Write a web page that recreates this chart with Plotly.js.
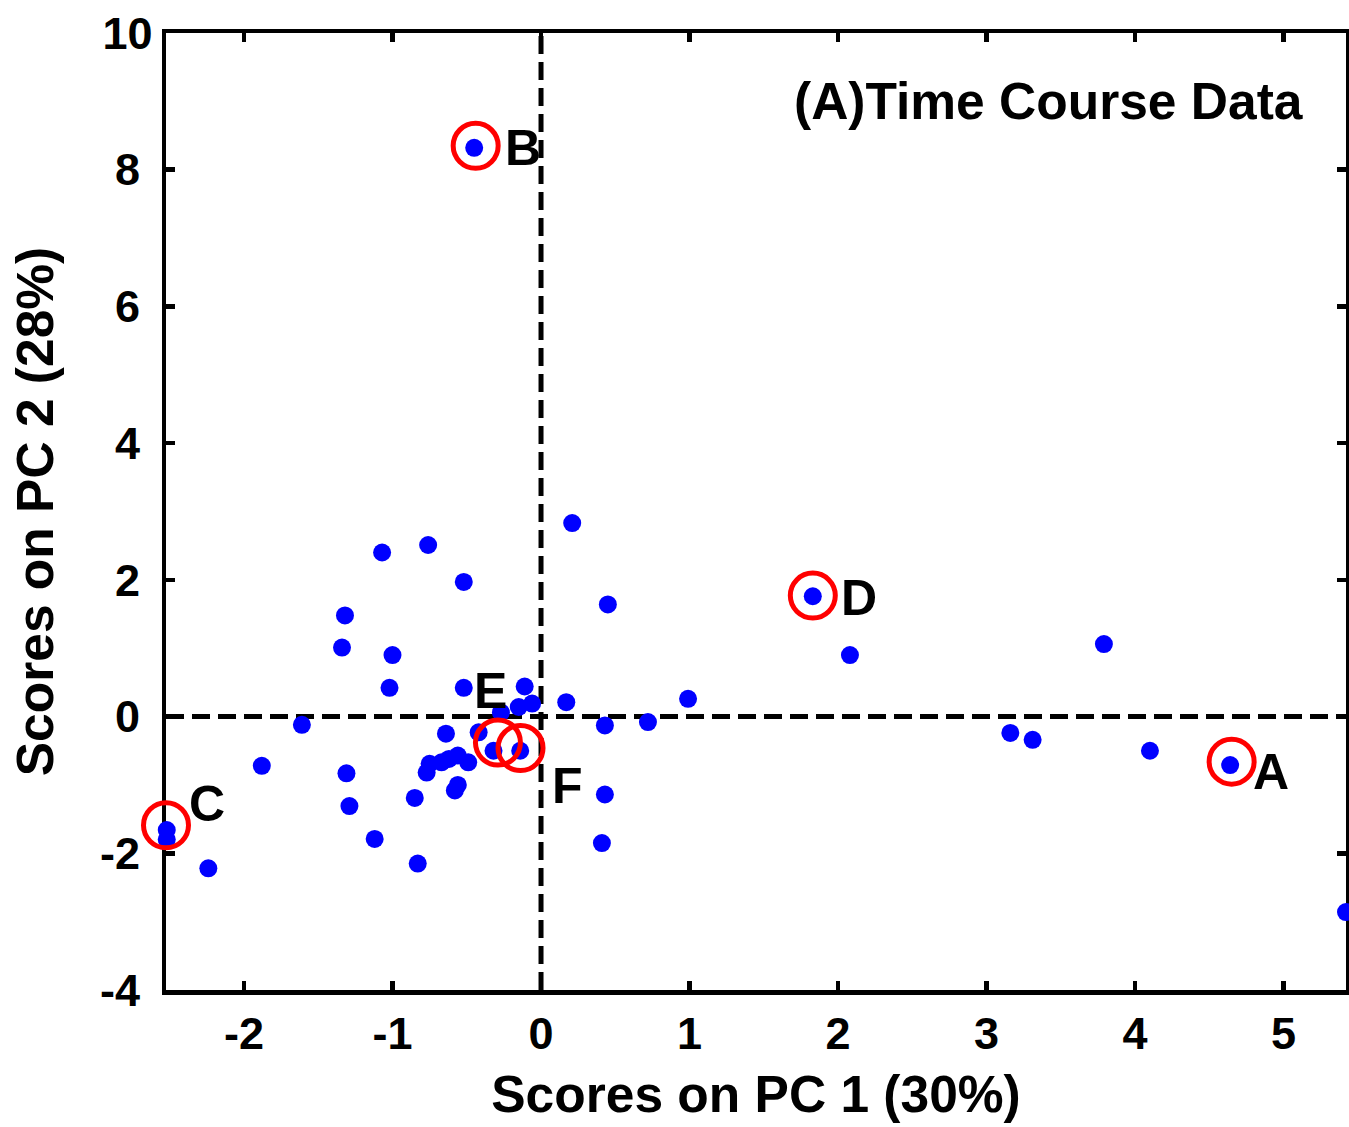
<!DOCTYPE html>
<html>
<head>
<meta charset="utf-8">
<script src="https://cdn.plot.ly/plotly-3.0.1.min.js"></script>
<style>html,body{margin:0;padding:0;background:#fff;overflow:hidden;}</style>
</head>
<body>
<div id="chart" style="width:1349px;height:1127px;"></div>
<script>
// PCA scores (PC1, PC2)
const pc1 = [-0.45, -1.07, -0.76, -0.52, -1.32, -1.34, -1.00, -1.02, -0.52, -1.61,
             -1.88, -1.31, -1.29, -1.12, -0.83, -0.85, -0.64, -0.42, -0.77, -0.75,
             -0.67, -0.62, -0.56, -0.49, -0.58, -0.56, -0.32, -0.14, -0.11, -0.15,
             -0.06, -0.27, 0.17, 0.43, 0.72, 0.43, 0.41, 0.21, 0.45, 0.99,
             1.83, 2.08, 3.79, 3.16, 3.31, 4.10, 4.64, 5.42, -2.52, -2.52, -2.24];
const pc2 = [8.32, 2.40, 2.51, 1.97, 1.48, 1.01, 0.90, 0.42, 0.42, -0.12,
             -0.72, -0.83, -1.31, -1.79, -2.15, -1.19, -0.25, -0.23, -0.82, -0.69,
             -0.67, -0.62, -0.57, -0.67, -1.08, -1.00, -0.50, -0.50, 0.44, 0.14,
             0.19, 0.06, 0.21, -0.13, -0.08, -1.14, -1.85, 2.83, 1.64, 0.26,
             1.76, 0.90, 1.06, -0.24, -0.34, -0.50, -0.71, -2.86, -1.66, -1.80, -2.22];

// Highlighted samples (red circles) and their labels
const hlLabels = ['A', 'B', 'C', 'D', 'E', 'F'];
const hlX = [4.65, -0.44, -2.525, 1.83, -0.29, -0.138];
const hlY = [-0.66, 8.35, -1.59, 1.77, -0.38, -0.46];

// Axis ticks
const xTicks = [-2, -1, 0, 1, 2, 3, 4, 5];
const xTickLabels = ['-2', '-1', '0', '1', '2', '3', '4', '5'];
const yTicks = [-4, -2, 0, 2, 4, 6, 8, 10];
const yTickLabels = ['-4\u2008', '-2\u2008', '0\u2008', '2\u2008', '4\u2008', '6\u2008', '8\u2008', '10'];
const xRange = [-2.525, 5.42];
const yRange = [-4, 10];

const titleText = '(A)Time Course Data';
const xTitle = 'Scores on PC 1 (30%)';
const yTitle = 'Scores on PC 2 (28%)';

const FONT = 'Liberation Sans, Arial, Helvetica, sans-serif';

// label offsets (px) relative to the circled point
const labelOffsets = {
  A: [19, -10], B: [27, -2], C: [21, 21], D: [26, -2], E: [-26, 52], F: [29, -38]
};

const traces = [
  {x: [0, 0], y: yRange, mode: 'lines', line: {color: '#000', width: 5, dash: '18px,8px'},
   hoverinfo: 'skip', showlegend: false},
  {x: xRange, y: [0, 0], mode: 'lines', line: {color: '#000', width: 5, dash: '18px,8px'},
   hoverinfo: 'skip', showlegend: false},
  {x: pc1, y: pc2, mode: 'markers', type: 'scatter', cliponaxis: false,
   marker: {color: '#0000ff', size: 18, line: {width: 0}}, showlegend: false},
  {x: hlX, y: hlY, mode: 'markers', type: 'scatter', text: hlLabels, cliponaxis: false,
   marker: {symbol: 'circle-open', color: '#ff0000', size: 45, line: {width: 5, color: '#ff0000'}},
   showlegend: false}
];

const annotations = hlLabels.map((lab, i) => ({
  x: hlX[i], y: hlY[i], xref: 'x', yref: 'y', text: lab, showarrow: false,
  xanchor: 'left', yanchor: 'middle',
  xshift: labelOffsets[lab][0], yshift: labelOffsets[lab][1],
  font: {family: FONT, size: 50, color: '#000', weight: 'bold'}
}));
annotations.push({
  xref: 'paper', yref: 'paper', x: 1, y: 1, xanchor: 'right', yanchor: 'middle',
  xshift: -41, yshift: -68, text: titleText, showarrow: false,
  font: {family: FONT, size: 51.5, color: '#000', weight: 'bold'}
});

const axisCommon = {
  showgrid: false, zeroline: false, showline: true, linecolor: '#000', linewidth: 4.5,
  mirror: 'ticks', ticks: 'inside', ticklen: 9, tickwidth: 4.5, tickcolor: '#000',
  layer: 'below traces',
  tickfont: {family: FONT, size: 45, color: '#000', weight: 'bold'}
};

const layout = {
  width: 1349, height: 1127,
  margin: {l: 166, r: 3, t: 33, b: 137},
  paper_bgcolor: '#fff', plot_bgcolor: '#fff',
  xaxis: Object.assign({}, axisCommon, {
    range: xRange, tickvals: xTicks, ticktext: xTickLabels,
    title: {text: xTitle, font: {family: FONT, size: 51.5, color: '#000', weight: 'bold'}, standoff: 20}
  }),
  yaxis: Object.assign({}, axisCommon, {
    range: yRange, tickvals: yTicks, ticktext: yTickLabels,
    title: {text: yTitle, font: {family: FONT, size: 51.5, color: '#000', weight: 'bold'}, standoff: 31}
  }),
  annotations: annotations,
  showlegend: false
};

Plotly.newPlot('chart', traces, layout, {staticPlot: true, displayModeBar: false});
</script>
</body>
</html>
